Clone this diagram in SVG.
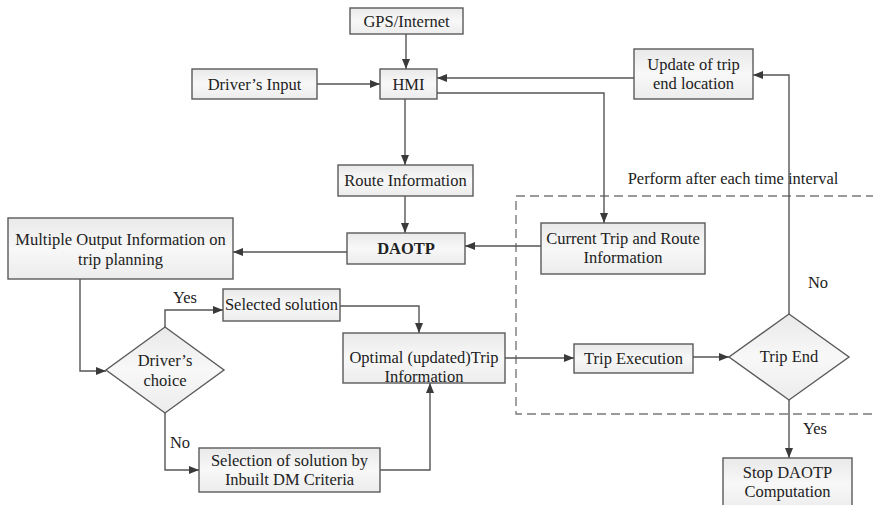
<svg xmlns="http://www.w3.org/2000/svg" width="873" height="505" viewBox="0 0 873 505">
<defs>
<linearGradient id="g" x1="0" y1="0" x2="0" y2="1">
<stop offset="0" stop-color="#e9e9e9"/>
<stop offset="0.5" stop-color="#f8f8f8"/>
<stop offset="1" stop-color="#ececec"/>
</linearGradient>
<marker id="ah" viewBox="0 0 10 8" refX="10" refY="4" markerWidth="10" markerHeight="8" markerUnits="userSpaceOnUse" orient="auto">
<path d="M0,0 L10,4 L0,8 z" fill="#3a3a3a"/>
</marker>
</defs>
<style>
.b{fill:url(#g);stroke:#5a5a5a;stroke-width:1.4}
.t{font-family:"Liberation Serif","Times New Roman",serif;font-size:16.5px;fill:#222;text-anchor:middle}
.bold{font-weight:bold}
.c{fill:none;stroke:#555;stroke-width:1.4;marker-end:url(#ah)}
.d{fill:none;stroke:#7a7a7a;stroke-width:1.4;stroke-dasharray:9,5}
</style>
<rect width="873" height="505" fill="#fff"/>

<rect class="d" x="516" y="196" width="370" height="218"/>
<text class="t" x="733" y="184">Perform after each time interval</text>

<g id="connectors">
<path class="c" d="M406,34 V69"/>
<path class="c" d="M317,84 H380"/>
<path class="c" d="M405,99 V165"/>
<path class="c" d="M405,196 V233"/>
<path class="c" d="M634,78 H437"/>
<path class="c" d="M437,93 H604 V223"/>
<path class="c" d="M789,314 V75 H753"/>
<path class="c" d="M541,246 H465"/>
<path class="c" d="M347,252 H233"/>
<path class="c" d="M80,279 V371 H106"/>
<path class="c" d="M165,327 V310 H223"/>
<path class="c" d="M340,306 H419 V333"/>
<path class="c" d="M165,413 V470 H199"/>
<path class="c" d="M380,470 H430 V383"/>
<path class="c" d="M505,358 H574"/>
<path class="c" d="M693,357 H729"/>
<path class="c" d="M789,400 V458"/>
<text class="t" x="185" y="303">Yes</text>
<text class="t" x="180" y="448">No</text>
<text class="t" x="818" y="288">No</text>
<text class="t" x="815" y="434">Yes</text>
</g>

<g id="gps"><rect class="b" x="350" y="8" width="113" height="26"/><text class="t" x="406.5" y="27">GPS/Internet</text></g>
<g id="driverinput"><rect class="b" x="192" y="69" width="125" height="30"/><text class="t" x="254.5" y="90">Driver’s Input</text></g>
<g id="hmi"><rect class="b" x="380" y="69" width="57" height="30"/><text class="t" x="408.5" y="90">HMI</text></g>
<g id="update"><rect class="b" x="634" y="49" width="119" height="50"/><text class="t" x="693.5" y="70">Update of trip</text><text class="t" x="693.5" y="89">end location</text></g>
<g id="route"><rect class="b" x="338" y="165" width="135" height="31"/><text class="t" x="405.5" y="186">Route Information</text></g>
<g id="daotp"><rect class="b" x="347" y="233" width="118" height="31"/><text class="t bold" x="406" y="254">DAOTP</text></g>
<g id="multiple"><rect class="b" x="8" y="218" width="225" height="61"/><text class="t" x="120.5" y="245">Multiple Output Information on</text><text class="t" x="120.5" y="265">trip planning</text></g>
<g id="current"><rect class="b" x="541" y="223" width="164" height="51"/><text class="t" x="623" y="244">Current Trip and Route</text><text class="t" x="623" y="263">Information</text></g>
<g id="selected"><rect class="b" x="223" y="289" width="117" height="32"/><text class="t" x="281.5" y="310">Selected solution</text></g>
<g id="choice"><path class="b" d="M165,327 L224,370 L165,413 L106,370 Z"/><text class="t" x="165" y="366">Driver’s</text><text class="t" x="165" y="386">choice</text></g>
<g id="optimal"><rect class="b" x="343" y="333" width="162" height="50"/><text class="t" x="424" y="363">Optimal (updated)Trip</text><text class="t" x="424" y="382">Information</text></g>
<g id="selection"><rect class="b" x="199" y="448" width="181" height="44"/><text class="t" x="289.5" y="466">Selection of solution by</text><text class="t" x="289.5" y="485">Inbuilt DM Criteria</text></g>
<g id="tripexec"><rect class="b" x="574" y="344" width="119" height="29"/><text class="t" x="633.5" y="364">Trip Execution</text></g>
<g id="tripend"><path class="b" d="M789,314 L849,357 L789,400 L729,357 Z"/><text class="t" x="789" y="362">Trip End</text></g>
<g id="stop"><rect class="b" x="723" y="458" width="129" height="52"/><text class="t" x="787.5" y="478">Stop DAOTP</text><text class="t" x="787.5" y="497">Computation</text></g>
</svg>
